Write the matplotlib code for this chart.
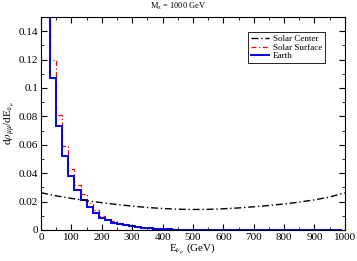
import numpy as np
import matplotlib
matplotlib.use("Agg")
from matplotlib import pyplot as plt

plt.rcParams['font.family'] = ['Liberation Serif', 'DejaVu Serif']
plt.rcParams['mathtext.fontset'] = 'stix'

# histogram bins (GeV), 20 GeV wide
edges = np.arange(10, 1010, 20)
earth = [0.30, 0.107, 0.073, 0.052, 0.038, 0.028, 0.021, 0.016, 0.012, 0.0085,
         0.0068, 0.0052, 0.0042, 0.0032, 0.0026, 0.0020, 0.0015, 0.0011, 0.0008, 0.0006,
         0.0004, 0.0003, 0.0002, 0.00015, 0.0001, 0.0001, 0.00005, 0.00005, 0, 0,
         0, 0, 0, 0, 0, 0, 0, 0, 0, 0,
         0, 0, 0, 0, 0, 0, 0, 0, 0]
surface = [0.33, 0.120, 0.081, 0.059, 0.043, 0.032, 0.025, 0.019, 0.014, 0.010,
           0.008, 0.006, 0.0048, 0.0037, 0.0029, 0.0022, 0.0017, 0.0012, 0.0009, 0.0007,
           0.0005, 0.0004, 0.0003, 0.0002, 0.00015, 0.0001, 0.00008, 0.00005, 0.00003, 0,
           0, 0, 0, 0, 0, 0, 0, 0, 0, 0,
           0, 0, 0, 0, 0, 0, 0, 0, 0]

# solar center curve
e_center = [0, 50, 100, 150, 200, 250, 300, 350, 400, 450, 500, 550,
            600, 650, 700, 750, 800, 850, 900, 950, 1000]
center = [0.0262, 0.0240, 0.0222, 0.0206, 0.0192, 0.0179, 0.0168, 0.0158, 0.0151, 0.0146, 0.0144, 0.0145,
          0.0149, 0.0155, 0.0163, 0.0172, 0.0183, 0.0196, 0.0212, 0.0232, 0.0262]

fig = plt.figure(figsize=(3.57, 2.61), dpi=100)
ax = fig.add_axes([0.115, 0.119, 0.851, 0.816])

ax.plot(e_center, center, color='black', ls=(0, (5, 2, 1, 2)), lw=1.0, label='Solar Center')
ax.stairs(surface, edges, baseline=None, color='red', ls=(0, (4, 2, 1, 2)), lw=0.9, label='Solar Surface')
ax.stairs(earth, edges, baseline=None, color='blue', lw=1.4, label='Earth')

ax.set_xlim(0, 1000)
ax.set_ylim(0, 0.15)
ax.set_xticks(np.arange(0, 1001, 100))
ax.set_xticks(np.arange(0, 1001, 50), minor=True)
ax.set_yticks(np.arange(0, 0.141, 0.02))
ax.set_yticklabels(['0', '0.02', '0.04', '0.06', '0.08', '0.1', '0.12', '0.14'])
ax.set_yticks(np.arange(0, 0.151, 0.01), minor=True)
ax.tick_params(which='both', direction='in', top=True, right=True, labelsize=8)
ax.tick_params(which='major', length=4, pad=2)
ax.tick_params(which='minor', length=2)

ax.set_xlabel(r'E$_{\nu_\mu}$ (GeV)', fontsize=8, labelpad=0)
ax.set_ylabel(r'd$\rho_{\mu\mu}$/dE$_{\nu_\mu}$', fontsize=8, labelpad=1)
fig.text(0.5, 0.975, r'M$_{\rm z}$ = 1000 GeV', ha='center', va='center', fontsize=6)

leg = ax.legend(loc='upper right', bbox_to_anchor=(0.935, 0.93), borderaxespad=0, fontsize=6.5,
                fancybox=False, edgecolor='black', framealpha=1,
                handlelength=2.0, handletextpad=0.5, borderpad=0.3, labelspacing=0.05)
leg.get_frame().set_linewidth(0.6)

fig.savefig('out.png', dpi=100)
